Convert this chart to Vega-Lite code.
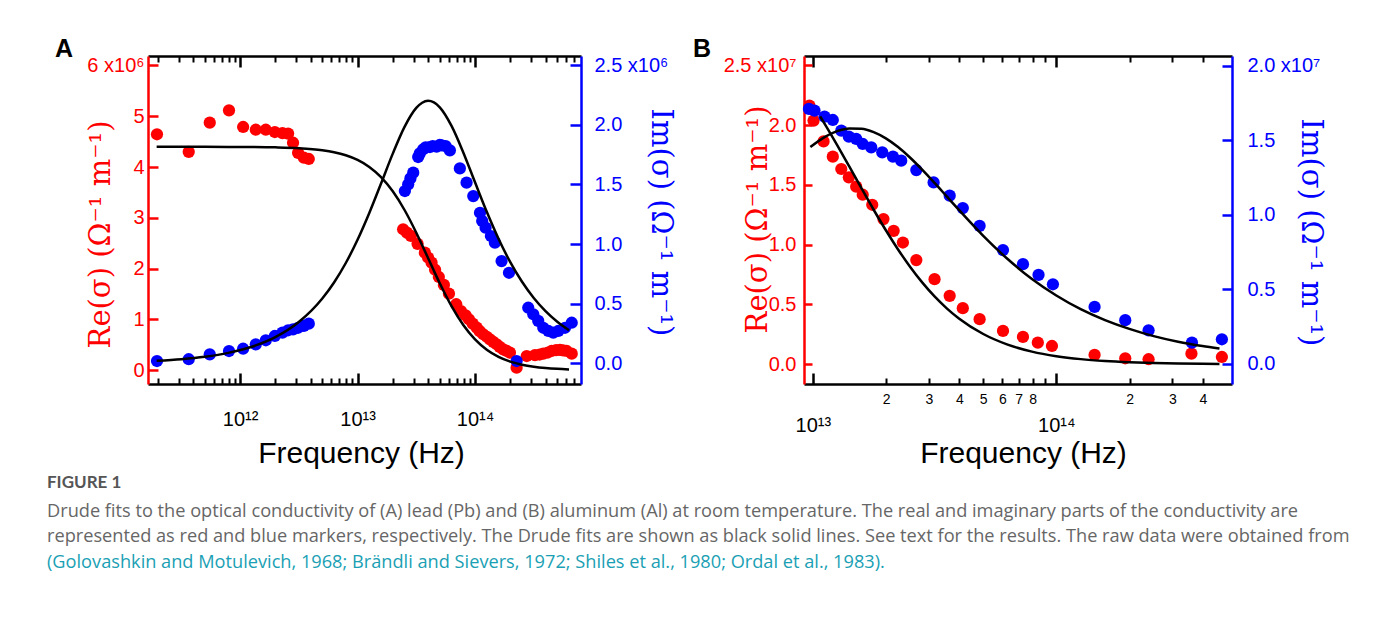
{
"$schema": "https://vega.github.io/schema/vega-lite/v6.json",
"background": "white",
"padding": {"left": 47, "top": 36, "right": 5, "bottom": 5},
"config": {"view": {"stroke": null}, "axis": {"grid": false}, "font": "Liberation Sans"},
"title": {"text": "(Golovashkin and Motulevich, 1968; Brändli and Sievers, 1972; Shiles et al., 1980; Ordal et al., 1983).", "orient": "bottom", "anchor": "start", "frame": "bounds", "offset": 9, "font": "Open Sans", "fontSize": 18.2, "fontWeight": "normal", "color": "#1a9fb4"},
"vconcat": [
{
"title": {"text": "FIGURE 1", "subtitle": ["Drude fits to the optical conductivity of (A) lead (Pb) and (B) aluminum (Al) at room temperature. The real and imaginary parts of the conductivity are", "represented as red and blue markers, respectively. The Drude fits are shown as black solid lines. See text for the results. The raw data were obtained from"], "orient": "bottom", "anchor": "start", "frame": "bounds", "dx": -8, "offset": 7, "font": "Lato", "fontSize": 17, "fontWeight": "bold", "color": "#555555", "subtitleFont": "Open Sans", "subtitleFontSize": 18.2, "subtitleColor": "#666666", "subtitlePadding": 11, "subtitleLineHeight": 25},
"bounds": "flush",
"spacing": 223,
"hconcat": [
{
"width": 433, "height": 328,
"title": {"text": "A", "anchor": "start", "frame": "group", "dx": -93, "offset": -27, "baseline": "alphabetic", "fontSize": 25, "fontWeight": "bold", "color": "black", "font": "Liberation Sans"},
"resolve": {"scale": {"y": "independent"}, "axis": {"x": "independent", "y": "independent"}},
"layer": [
{
"data": {"values": [
{"f": 1.963e11, "re": 4.646}, {"f": 3.656e11, "re": 4.30}, {"f": 5.521e11, "re": 4.874}, {"f": 8.054e11, "re": 5.118},
{"f": 1.062e12, "re": 4.79}, {"f": 1.361e12, "re": 4.736}, {"f": 1.656e12, "re": 4.736}, {"f": 1.977e12, "re": 4.69},
{"f": 2.296e12, "re": 4.67}, {"f": 2.564e12, "re": 4.66}, {"f": 2.825e12, "re": 4.48}, {"f": 3.119e12, "re": 4.28},
{"f": 3.491e12, "re": 4.185}, {"f": 3.846e12, "re": 4.16},
{"f": 2.443e13, "re": 2.776}, {"f": 2.630e13, "re": 2.71}, {"f": 2.844e13, "re": 2.644}, {"f": 3.243e13, "re": 2.49},
{"f": 3.741e13, "re": 2.315}, {"f": 3.981e13, "re": 2.22}, {"f": 4.266e13, "re": 2.118}, {"f": 4.571e13, "re": 1.98},
{"f": 4.920e13, "re": 1.837}, {"f": 5.433e13, "re": 1.68}, {"f": 5.998e13, "re": 1.508}, {"f": 6.918e13, "re": 1.30},
{"f": 7.586e13, "re": 1.167}, {"f": 8.318e13, "re": 1.08}, {"f": 8.872e13, "re": 1.004}, {"f": 9.550e13, "re": 0.92},
{"f": 1.033e14, "re": 0.839}, {"f": 1.096e14, "re": 0.77}, {"f": 1.175e14, "re": 0.709}, {"f": 1.259e14, "re": 0.66},
{"f": 1.340e14, "re": 0.61}, {"f": 1.429e14, "re": 0.56}, {"f": 1.528e14, "re": 0.512}, {"f": 1.622e14, "re": 0.46},
{"f": 1.738e14, "re": 0.413}, {"f": 1.862e14, "re": 0.38}, {"f": 1.982e14, "re": 0.347}, {"f": 2.259e14, "re": 0.051},
{"f": 2.754e14, "re": 0.281}, {"f": 3.236e14, "re": 0.30}, {"f": 3.548e14, "re": 0.31}, {"f": 3.811e14, "re": 0.327},
{"f": 4.169e14, "re": 0.35}, {"f": 4.487e14, "re": 0.38}, {"f": 4.898e14, "re": 0.395}, {"f": 5.284e14, "re": 0.40},
{"f": 5.623e14, "re": 0.39}, {"f": 6.026e14, "re": 0.38}, {"f": 6.653e14, "re": 0.327}
]},
"mark": {"type": "circle", "size": 150, "color": "#ff0000", "opacity": 1},
"encoding": {
"x": {"field": "f", "type": "quantitative", "scale": {"type": "log", "domain": [1.646e11, 7.98e14], "nice": false},
"axis": {"orient": "bottom", "values": [1e12, 1e13, 1e14], "labelExpr": "datum.value < 5e12 ? '10¹²' : datum.value < 5e13 ? '10¹³' : '10¹⁴'", "tickSize": -11, "tickWidth": 2.5, "tickColor": "black", "domainColor": "black", "domainWidth": 2.5, "labelFontSize": 20, "labelFont": "Liberation Sans", "labelColor": "black", "labelPadding": 36, "labelOverlap": false, "labelFlush": false, "title": "Frequency (Hz)", "titleFont": "Liberation Sans", "titleFontSize": 30, "titleFontWeight": "normal", "titleColor": "black", "titleX": 213, "titleY": 78, "titleBaseline": "alphabetic", "titleAlign": "center"}},
"y": {"field": "re", "type": "quantitative", "scale": {"domain": [-0.27, 6.187], "nice": false, "zero": false},
"axis": {"orient": "left", "values": [0, 1, 2, 3, 4, 5, 6], "labelExpr": "datum.value == 6 ? '6 x10⁶' : format(datum.value, 'd')", "tickSize": -10, "tickWidth": 2.5, "tickColor": "#ff0000", "domainColor": "#ff0000", "domainWidth": 2.5, "labelFontSize": 20, "labelFont": "Liberation Sans", "labelColor": "#ff0000", "labelPadding": 14, "labelOverlap": false, "labelFlush": false, "title": "Re(σ)  (Ω⁻¹ m⁻¹)", "titleFont": "DejaVu Serif", "titleFontSize": 29, "titleFontWeight": "normal", "titleColor": "#ff0000", "titleX": -48, "titleY": 178, "titleBaseline": "middle", "titleAlign": "center"}}
}
},
{
"data": {"values": [
{"f": 1.963e11, "im": 0.019}, {"f": 3.656e11, "im": 0.034}, {"f": 5.521e11, "im": 0.075}, {"f": 8.054e11, "im": 0.103},
{"f": 1.062e12, "im": 0.122}, {"f": 1.361e12, "im": 0.159}, {"f": 1.656e12, "im": 0.193}, {"f": 1.977e12, "im": 0.229},
{"f": 2.296e12, "im": 0.257}, {"f": 2.564e12, "im": 0.277}, {"f": 2.825e12, "im": 0.285}, {"f": 3.119e12, "im": 0.298},
{"f": 3.491e12, "im": 0.313}, {"f": 3.846e12, "im": 0.332},
{"f": 2.529e13, "im": 1.444}, {"f": 2.698e13, "im": 1.50}, {"f": 2.818e13, "im": 1.55}, {"f": 2.979e13, "im": 1.598},
{"f": 3.281e13, "im": 1.729}, {"f": 3.388e13, "im": 1.76}, {"f": 3.622e13, "im": 1.794}, {"f": 3.802e13, "im": 1.81},
{"f": 4.130e13, "im": 1.813}, {"f": 4.365e13, "im": 1.82}, {"f": 4.710e13, "im": 1.816}, {"f": 5.012e13, "im": 1.83},
{"f": 5.200e13, "im": 1.827}, {"f": 5.623e13, "im": 1.82}, {"f": 6.109e13, "im": 1.785}, {"f": 7.430e13, "im": 1.634},
{"f": 8.472e13, "im": 1.514}, {"f": 9.661e13, "im": 1.402}, {"f": 1.102e14, "im": 1.262}, {"f": 1.151e14, "im": 1.193},
{"f": 1.230e14, "im": 1.137}, {"f": 1.365e14, "im": 1.067}, {"f": 1.476e14, "im": 1.011}, {"f": 1.683e14, "im": 0.857},
{"f": 1.945e14, "im": 0.759}, {"f": 2.259e14, "im": 0.019}, {"f": 2.838e14, "im": 0.466}, {"f": 3.133e14, "im": 0.411},
{"f": 3.451e14, "im": 0.355}, {"f": 3.811e14, "im": 0.298}, {"f": 4.207e14, "im": 0.271}, {"f": 4.634e14, "im": 0.257},
{"f": 5.117e14, "im": 0.271}, {"f": 5.834e14, "im": 0.298}, {"f": 6.653e14, "im": 0.34}
]},
"mark": {"type": "circle", "size": 150, "color": "#0000ff", "opacity": 1},
"encoding": {
"x": {"field": "f", "type": "quantitative", "scale": {"type": "log", "domain": [1.646e11, 7.98e14], "nice": false},
"axis": {"orient": "top", "values": [1e12, 1e13, 1e14], "labels": false, "minExtent": 0, "tickSize": -11, "tickWidth": 2.5, "tickColor": "black", "domainColor": "black", "domainWidth": 2.5, "title": null}},
"y": {"field": "im", "type": "quantitative", "scale": {"domain": [-0.1735, 2.576], "nice": false, "zero": false},
"axis": {"orient": "right", "values": [0, 0.5, 1, 1.5, 2, 2.5], "labelExpr": "datum.value == 2.5 ? '2.5 x10⁶' : format(datum.value, '.1f')", "tickSize": -11, "tickWidth": 2.5, "tickColor": "#0000ff", "domainColor": "#0000ff", "domainWidth": 2.5, "labelFontSize": 20, "labelFont": "Liberation Sans", "labelColor": "#0000ff", "labelPadding": 24, "labelOverlap": false, "labelFlush": false, "title": "Im(σ)  (Ω⁻¹ m⁻¹)", "titleFont": "DejaVu Serif", "titleFontSize": 29, "titleFontWeight": "normal", "titleColor": "#0000ff", "titleX": 79, "titleY": 166, "titleBaseline": "middle", "titleAlign": "center"}}
}
},
{
"data": {"values": [
{"f": 1.95e11, "re": 4.400}, {"f": 3.162e11, "re": 4.3997}, {"f": 5.012e11, "re": 4.3993}, {"f": 7.943e11, "re": 4.398},
{"f": 1.259e12, "re": 4.3956}, {"f": 1.995e12, "re": 4.389}, {"f": 3.162e12, "re": 4.3727}, {"f": 5.012e12, "re": 4.332},
{"f": 6.310e12, "re": 4.2932}, {"f": 7.943e12, "re": 4.233}, {"f": 1e13, "re": 4.1411}, {"f": 1.259e13, "re": 4.0033},
{"f": 1.585e13, "re": 3.8028}, {"f": 1.995e13, "re": 3.5231}, {"f": 2.512e13, "re": 3.1554}, {"f": 3.162e13, "re": 2.7074},
{"f": 3.548e13, "re": 2.4621}, {"f": 3.981e13, "re": 2.2102}, {"f": 4.467e13, "re": 1.9578}, {"f": 5.012e13, "re": 1.7118},
{"f": 6.310e13, "re": 1.2612}, {"f": 7.943e13, "re": 0.8899}, {"f": 1e14, "re": 0.6068}, {"f": 1.259e14, "re": 0.4034},
{"f": 1.585e14, "re": 0.2634}, {"f": 1.995e14, "re": 0.1700}, {"f": 2.512e14, "re": 0.1088}, {"f": 3.162e14, "re": 0.0693},
{"f": 3.981e14, "re": 0.0440}, {"f": 5.012e14, "re": 0.0278}, {"f": 6.310e14, "re": 0.0176}
]},
"mark": {"type": "line", "color": "black", "strokeWidth": 2.5, "interpolate": "monotone"},
"encoding": {
"x": {"field": "f", "type": "quantitative", "scale": {"type": "log", "domain": [1.646e11, 7.98e14], "nice": false},
"axis": {"orient": "bottom", "values": [2e11, 3e11, 4e11, 5e11, 6e11, 7e11, 8e11, 9e11, 2e12, 3e12, 4e12, 5e12, 6e12, 7e12, 8e12, 9e12, 2e13, 3e13, 4e13, 5e13, 6e13, 7e13, 8e13, 9e13, 2e14, 3e14, 4e14, 5e14, 6e14, 7e14], "labels": false, "domain": false, "tickSize": -6, "tickWidth": 2, "tickColor": "black", "title": null}},
"y": {"field": "re", "type": "quantitative", "scale": {"domain": [-0.27, 6.187], "nice": false, "zero": false}, "axis": null}
}
},
{
"data": {"values": [
{"f": 1.95e11, "im": 0.0215}, {"f": 3.162e11, "im": 0.0348}, {"f": 5.012e11, "im": 0.0551}, {"f": 7.943e11, "im": 0.0874},
{"f": 1.259e12, "im": 0.1384}, {"f": 1.995e12, "im": 0.219}, {"f": 3.162e12, "im": 0.3457}, {"f": 5.012e12, "im": 0.5429},
{"f": 6.310e12, "im": 0.6773}, {"f": 7.943e12, "im": 0.8407}, {"f": 1e13, "im": 1.0354}, {"f": 1.259e13, "im": 1.2601},
{"f": 1.585e13, "im": 1.507}, {"f": 1.995e13, "im": 1.7576}, {"f": 2.512e13, "im": 1.9818}, {"f": 3.162e13, "im": 2.1407},
{"f": 3.548e13, "im": 2.1844}, {"f": 3.981e13, "im": 2.2000}, {"f": 4.467e13, "im": 2.1867}, {"f": 5.012e13, "im": 2.1452},
{"f": 6.310e13, "im": 1.9897}, {"f": 7.943e13, "im": 1.7674}, {"f": 1e14, "im": 1.5171}, {"f": 1.259e14, "im": 1.2697},
{"f": 1.585e14, "im": 1.0438}, {"f": 1.995e14, "im": 0.8479}, {"f": 2.512e14, "im": 0.6833}, {"f": 3.162e14, "im": 0.5477},
{"f": 3.981e14, "im": 0.4376}, {"f": 5.012e14, "im": 0.3489}, {"f": 6.310e14, "im": 0.2778}
]},
"mark": {"type": "line", "color": "black", "strokeWidth": 2.5, "interpolate": "monotone"},
"encoding": {
"x": {"field": "f", "type": "quantitative", "scale": {"type": "log", "domain": [1.646e11, 7.98e14], "nice": false},
"axis": {"orient": "top", "values": [2e11, 3e11, 4e11, 5e11, 6e11, 7e11, 8e11, 9e11, 2e12, 3e12, 4e12, 5e12, 6e12, 7e12, 8e12, 9e12, 2e13, 3e13, 4e13, 5e13, 6e13, 7e13, 8e13, 9e13, 2e14, 3e14, 4e14, 5e14, 6e14, 7e14], "labels": false, "domain": false, "minExtent": 0, "tickSize": -6, "tickWidth": 2, "tickColor": "black", "title": null}},
"y": {"field": "im", "type": "quantitative", "scale": {"domain": [-0.1735, 2.576], "nice": false, "zero": false}, "axis": null}
}
}
]
},
{
"width": 428, "height": 328,
"title": {"text": "B", "anchor": "start", "frame": "group", "dx": -111, "offset": -27, "baseline": "alphabetic", "fontSize": 25, "fontWeight": "bold", "color": "black", "font": "Liberation Sans"},
"resolve": {"scale": {"y": "independent"}, "axis": {"x": "independent", "y": "independent"}},
"layer": [
{
"data": {"values": [
{"f": 9.683e12, "re": 2.163}, {"f": 1.007e13, "re": 2.038}, {"f": 1.107e13, "re": 1.864}, {"f": 1.208e13, "re": 1.736},
{"f": 1.309e13, "re": 1.633}, {"f": 1.406e13, "re": 1.563}, {"f": 1.507e13, "re": 1.485}, {"f": 1.603e13, "re": 1.418},
{"f": 1.754e13, "re": 1.334}, {"f": 1.950e13, "re": 1.214}, {"f": 2.148e13, "re": 1.116}, {"f": 2.344e13, "re": 1.018},
{"f": 2.661e13, "re": 0.871}, {"f": 3.162e13, "re": 0.712}, {"f": 3.648e13, "re": 0.572}, {"f": 4.130e13, "re": 0.469},
{"f": 4.842e13, "re": 0.377}, {"f": 6.039e13, "re": 0.279}, {"f": 7.295e13, "re": 0.229}, {"f": 8.395e13, "re": 0.181},
{"f": 9.594e13, "re": 0.153}, {"f": 1.436e14, "re": 0.078}, {"f": 1.919e14, "re": 0.05}, {"f": 2.393e14, "re": 0.042},
{"f": 3.589e14, "re": 0.089}, {"f": 4.786e14, "re": 0.061}
]},
"mark": {"type": "circle", "size": 150, "color": "#ff0000", "opacity": 1},
"encoding": {
"x": {"field": "f", "type": "quantitative", "scale": {"type": "log", "domain": [9.2e12, 5.266e14], "nice": false},
"axis": {"orient": "bottom", "values": [1e13, 1e14], "labelExpr": "datum.value < 5e13 ? '10¹³' : '10¹⁴'", "tickSize": -11, "tickWidth": 2.5, "tickColor": "black", "domainColor": "black", "domainWidth": 2.5, "labelFontSize": 20, "labelFont": "Liberation Sans", "labelColor": "black", "labelPadding": 42, "labelOverlap": false, "labelFlush": false, "title": "Frequency (Hz)", "titleFont": "Liberation Sans", "titleFontSize": 30, "titleFontWeight": "normal", "titleColor": "black", "titleX": 219, "titleY": 78, "titleBaseline": "alphabetic", "titleAlign": "center"}},
"y": {"field": "re", "type": "quantitative", "scale": {"domain": [-0.165, 2.578], "nice": false, "zero": false},
"axis": {"orient": "left", "values": [0, 0.5, 1, 1.5, 2, 2.5], "labelExpr": "datum.value == 2.5 ? '2.5 x10⁷' : format(datum.value, '.1f')", "tickSize": -8, "tickWidth": 2.5, "tickColor": "#ff0000", "domainColor": "#ff0000", "domainWidth": 2.5, "labelFontSize": 20, "labelFont": "Liberation Sans", "labelColor": "#ff0000", "labelPadding": 16, "labelOverlap": false, "labelFlush": false, "title": "Re(σ)  (Ω⁻¹ m⁻¹)", "titleFont": "DejaVu Serif", "titleFontSize": 29, "titleFontWeight": "normal", "titleColor": "#ff0000", "titleX": -47, "titleY": 163, "titleBaseline": "middle", "titleAlign": "center"}}
}
},
{
"data": {"values": [
{"f": 9.638e12, "im": 1.709}, {"f": 1.016e13, "im": 1.698}, {"f": 1.117e13, "im": 1.657}, {"f": 1.208e13, "im": 1.635},
{"f": 1.309e13, "im": 1.563}, {"f": 1.406e13, "im": 1.523}, {"f": 1.507e13, "im": 1.508}, {"f": 1.603e13, "im": 1.474},
{"f": 1.738e13, "im": 1.451}, {"f": 1.928e13, "im": 1.418}, {"f": 2.133e13, "im": 1.389}, {"f": 2.307e13, "im": 1.362},
{"f": 2.661e13, "im": 1.299}, {"f": 3.133e13, "im": 1.216}, {"f": 3.648e13, "im": 1.127}, {"f": 4.130e13, "im": 1.044},
{"f": 4.842e13, "im": 0.925}, {"f": 6.039e13, "im": 0.762}, {"f": 7.295e13, "im": 0.668}, {"f": 8.453e13, "im": 0.596},
{"f": 9.683e13, "im": 0.533}, {"f": 1.436e14, "im": 0.381}, {"f": 1.919e14, "im": 0.292}, {"f": 2.393e14, "im": 0.224},
{"f": 3.606e14, "im": 0.141}, {"f": 4.786e14, "im": 0.164}
]},
"mark": {"type": "circle", "size": 150, "color": "#0000ff", "opacity": 1},
"encoding": {
"x": {"field": "f", "type": "quantitative", "scale": {"type": "log", "domain": [9.2e12, 5.266e14], "nice": false},
"axis": {"orient": "top", "values": [1e13, 1e14], "labels": false, "minExtent": 0, "tickSize": -11, "tickWidth": 2.5, "tickColor": "black", "domainColor": "black", "domainWidth": 2.5, "title": null}},
"y": {"field": "im", "type": "quantitative", "scale": {"domain": [-0.136, 2.064], "nice": false, "zero": false},
"axis": {"orient": "right", "values": [0, 0.5, 1, 1.5, 2], "labelExpr": "datum.value == 2 ? '2.0 x10⁷' : format(datum.value, '.1f')", "tickSize": -10, "tickWidth": 2.5, "tickColor": "#0000ff", "domainColor": "#0000ff", "domainWidth": 2.5, "labelFontSize": 20, "labelFont": "Liberation Sans", "labelColor": "#0000ff", "labelPadding": 25, "labelOverlap": false, "labelFlush": false, "title": "Im(σ)  (Ω⁻¹ m⁻¹)", "titleFont": "DejaVu Serif", "titleFontSize": 29, "titleFontWeight": "normal", "titleColor": "#0000ff", "titleX": 78, "titleY": 176, "titleBaseline": "middle", "titleAlign": "center"}}
}
},
{
"data": {"values": [
{"f": 1.072e13, "re": 2.0724}, {"f": 1.122e13, "re": 2.0058}, {"f": 1.259e13, "re": 1.8325}, {"f": 1.413e13, "re": 1.6527},
{"f": 1.585e13, "re": 1.4711}, {"f": 1.778e13, "re": 1.2922}, {"f": 1.995e13, "re": 1.1207}, {"f": 2.239e13, "re": 0.9602},
{"f": 2.512e13, "re": 0.8136}, {"f": 2.818e13, "re": 0.6824}, {"f": 3.162e13, "re": 0.5672}, {"f": 3.548e13, "re": 0.4679},
{"f": 3.981e13, "re": 0.3833}, {"f": 5.012e13, "re": 0.2532}, {"f": 6.310e13, "re": 0.1646}, {"f": 7.943e13, "re": 0.1059},
{"f": 1e14, "re": 0.0677}, {"f": 1.259e14, "re": 0.0430}, {"f": 1.585e14, "re": 0.0273}, {"f": 1.995e14, "re": 0.0173},
{"f": 2.512e14, "re": 0.0109}, {"f": 3.162e14, "re": 0.0069}, {"f": 3.981e14, "re": 0.0044}, {"f": 4.677e14, "re": 0.0032}
]},
"mark": {"type": "line", "color": "black", "strokeWidth": 2.5, "interpolate": "monotone"},
"encoding": {
"x": {"field": "f", "type": "quantitative", "scale": {"type": "log", "domain": [9.2e12, 5.266e14], "nice": false},
"axis": {"orient": "bottom", "values": [2e13, 3e13, 4e13, 5e13, 6e13, 7e13, 8e13, 9e13, 2e14, 3e14, 4e14], "labelExpr": "datum.value > 8.5e13 && datum.value < 9.5e13 ? '' : format(datum.value / pow(10, floor(log(datum.value) / LN10 + 1e-6)), '.0f')", "domain": false, "tickSize": -6, "tickWidth": 2, "tickColor": "black", "labelFontSize": 14, "labelFont": "Liberation Sans", "labelColor": "black", "labelPadding": 14, "labelOverlap": false, "labelFlush": false, "title": null}},
"y": {"field": "re", "type": "quantitative", "scale": {"domain": [-0.165, 2.578], "nice": false, "zero": false}, "axis": null}
}
},
{
"data": {"values": [
{"f": 9.772e12, "im": 1.4534}, {"f": 1.122e13, "im": 1.5216}, {"f": 1.259e13, "im": 1.5597}, {"f": 1.413e13, "im": 1.5783},
{"f": 1.585e13, "im": 1.5763}, {"f": 1.778e13, "im": 1.5536}, {"f": 1.995e13, "im": 1.5118}, {"f": 2.239e13, "im": 1.4534},
{"f": 2.512e13, "im": 1.3817}, {"f": 2.818e13, "im": 1.3002}, {"f": 3.162e13, "im": 1.2127}, {"f": 3.548e13, "im": 1.1223},
{"f": 3.981e13, "im": 1.0317}, {"f": 5.012e13, "im": 0.8579}, {"f": 6.310e13, "im": 0.7021}, {"f": 7.943e13, "im": 0.5687},
{"f": 1e14, "im": 0.4577}, {"f": 1.259e14, "im": 0.3660}, {"f": 1.585e14, "im": 0.2925}, {"f": 1.995e14, "im": 0.2334},
{"f": 2.512e14, "im": 0.1851}, {"f": 3.162e14, "im": 0.1475}, {"f": 3.981e14, "im": 0.1184}, {"f": 4.677e14, "im": 0.1012}
]},
"mark": {"type": "line", "color": "black", "strokeWidth": 2.5, "interpolate": "monotone"},
"encoding": {
"x": {"field": "f", "type": "quantitative", "scale": {"type": "log", "domain": [9.2e12, 5.266e14], "nice": false},
"axis": {"orient": "top", "values": [2e13, 3e13, 4e13, 5e13, 6e13, 7e13, 8e13, 9e13, 2e14, 3e14, 4e14], "labels": false, "domain": false, "minExtent": 0, "tickSize": -6, "tickWidth": 2, "tickColor": "black", "title": null}},
"y": {"field": "im", "type": "quantitative", "scale": {"domain": [-0.136, 2.064], "nice": false, "zero": false}, "axis": null}
}
}
]
}
]
}
]
}
